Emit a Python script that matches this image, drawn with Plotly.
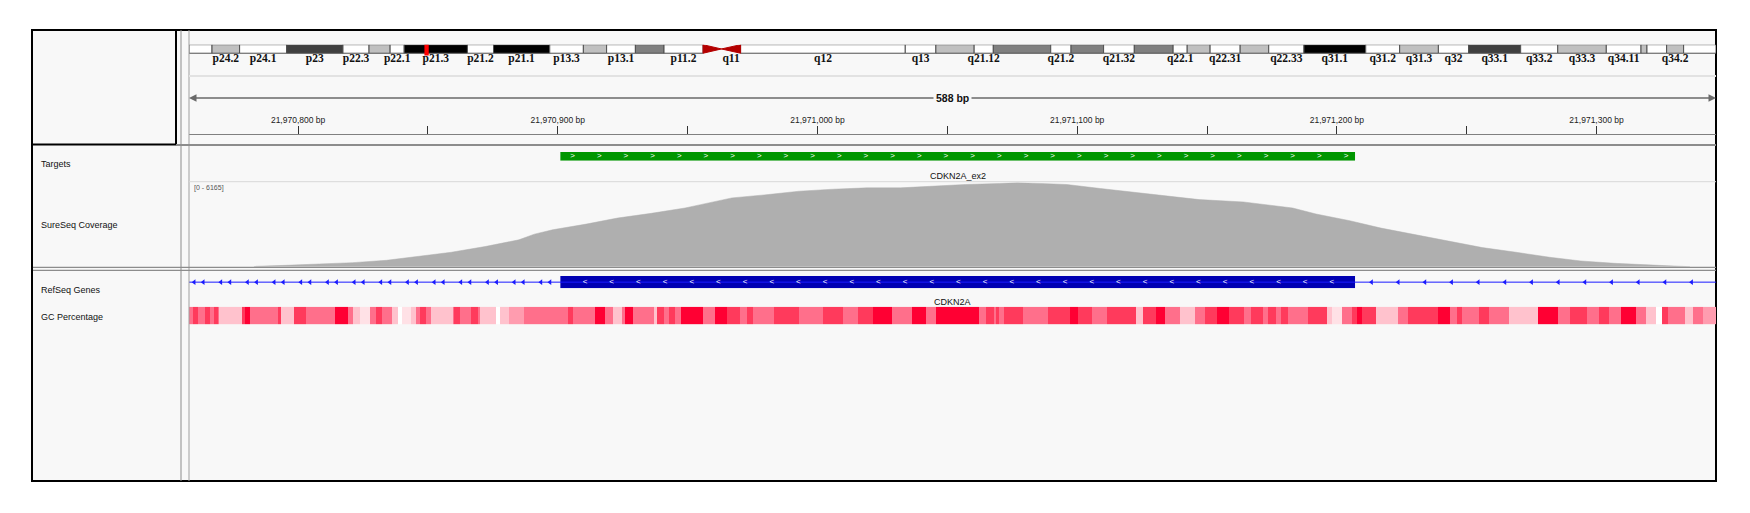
import numpy as np
import plotly.graph_objects as go

W, H = 1750, 513


def fx(px):
    return px / W


def fy(py):
    return 1 - py / H


# current view on chr9
view_start = 21970758
view_end = 21971346
view_mid = (view_start + view_end) / 2
chrom_len_mb = 141.213431

# chr9 cytobands (Mb)
band_names = ['p24.3', 'p24.2', 'p24.1', 'p23', 'p22.3', 'p22.2', 'p22.1', 'p21.3',
              'p21.2', 'p21.1', 'p13.3', 'p13.2', 'p13.1', 'p12', 'p11.2', 'p11.1',
              'q11', 'q12', 'q13', 'q21.11', 'q21.12', 'q21.13', 'q21.2', 'q21.31',
              'q21.32', 'q21.33', 'q22.1', 'q22.2', 'q22.31', 'q22.32', 'q22.33',
              'q31.1', 'q31.2', 'q31.3', 'q32', 'q33.1', 'q33.2', 'q33.3', 'q34.11',
              'q34.12', 'q34.13', 'q34.2', 'q34.3']
band_start = [0.0, 2.13, 4.68, 9.03, 14.24, 16.65, 18.60, 19.90, 25.75, 28.16, 33.36,
              36.47, 38.62, 41.28, 43.93, 47.54, 49.24, 51.01, 66.24, 69.07, 72.61,
              74.38, 79.69, 81.57, 84.58, 87.42, 91.01, 92.31, 94.43, 97.21, 99.85,
              103.11, 108.82, 111.96, 115.54, 118.34, 123.15, 126.58, 131.07, 134.28,
              134.83, 136.65, 138.22]
band_stain = ['gneg', 'gpos25', 'gneg', 'gpos75', 'gneg', 'gpos25', 'gneg', 'gpos100',
              'gneg', 'gpos100', 'gneg', 'gpos25', 'gneg', 'gpos50', 'gneg', 'acen',
              'acen', 'gvar', 'gneg', 'gpos25', 'gneg', 'gpos50', 'gneg', 'gpos50',
              'gneg', 'gpos50', 'gneg', 'gpos25', 'gneg', 'gpos25', 'gneg', 'gpos100',
              'gneg', 'gpos25', 'gneg', 'gpos75', 'gneg', 'gpos25', 'gneg', 'gpos25',
              'gneg', 'gpos25', 'gneg']
band_shown = [0, 1, 1, 1, 1, 0, 1, 1, 1, 1, 1, 0, 1, 0, 1, 0,
              1, 1, 1, 0, 1, 0, 1, 0, 1, 0, 1, 0, 1, 0, 1,
              1, 1, 1, 1, 1, 1, 1, 1, 0, 0, 1, 0]
band_end = band_start[1:] + [chrom_len_mb]

stain_color = {'gneg': '#ffffff', 'gvar': '#ffffff', 'gpos25': '#c0c0c0',
               'gpos50': '#808080', 'gpos75': '#404040', 'gpos100': '#000000'}

# targets / genes
target_name = 'CDKN2A_ex2'
target_start = 21970901
target_end = 21971207

gene_name = 'CDKN2A'
gene_start = 21967751
gene_end = 21994490
exon_start = 21970901
exon_end = 21971207

# coverage (bp offset from 21,970,000 and depth)
cov_max = 6165
cov_offset = [783, 784, 795, 808, 821, 834, 846, 859, 872, 885, 891, 898, 911, 923,
              936, 949, 955, 967, 981, 993, 1006, 1019, 1032, 1044, 1057, 1070, 1077,
              1083, 1096, 1109, 1121, 1134, 1147, 1164, 1173, 1183, 1192, 1205, 1217,
              1230, 1243, 1256, 1269, 1282, 1294, 1307, 1324, 1335, 1336]
cov_depth = [0, 30, 98, 172, 295, 467, 761, 1056, 1474, 1965, 2383, 2702, 3119, 3561,
             3905, 4298, 4544, 5035, 5281, 5527, 5674, 5772, 5772, 5895, 6018, 6091, 6165,
             6116, 6018, 5723, 5477, 5158, 4912, 4740, 4544, 4298, 3856, 3365, 2825,
             2333, 1842, 1400, 1056, 688, 418, 246, 98, 20, 0]

# GC percentage windows (start offset from 21,970,000, GC %)
gc_offset = [758.0, 759.4, 761.3, 764.3, 766.2, 767.7, 769.2, 769.6, 778.5, 779.5, 781.3,
             792.3, 793.6, 798.3, 803.0, 814.4, 819.1, 821.0, 823.8, 827.6, 830.0, 832.3,
             836.1, 838.3, 839.9, 843.6, 845.5, 847.0, 849.3, 851.2, 859.7, 860.2, 862.5,
             866.7, 869.1, 870.1, 876.1, 877.6, 881.4, 887.1, 904.1, 906.0, 914.4, 918.2,
             921.1, 924.8, 925.8, 929.0, 937.1, 938.1, 941.0, 943.0, 945.0, 947.5, 956.0,
             960.7, 965.0, 970.2, 973.0, 975.0, 983.4, 992.8, 1002.3, 1009.8, 1015.5,
             1021.2, 1028.7, 1036.3, 1041.9, 1045.7, 1050.6, 1062.2, 1065.0, 1067.9,
             1068.8, 1069.8, 1071.7, 1079.2, 1088.6, 1097.2, 1100.4, 1105.6, 1111.3,
             1122.6, 1125.5, 1130.2, 1134.0, 1139.6, 1145.3, 1149.1, 1153.8, 1158.5,
             1164.2, 1167.0, 1171.7, 1173.6, 1176.5, 1178.4, 1181.2, 1188.7, 1196.3,
             1198.2, 1202.0, 1205.7, 1207.6, 1209.5, 1215.2, 1223.7, 1227.5, 1238.8,
             1243.5, 1246.3, 1248.2, 1254.8, 1258.6, 1266.2, 1277.5, 1285.1, 1289.8,
             1296.4, 1301.1, 1304.9, 1309.6, 1315.3, 1319.0, 1322.8, 1325.1, 1327.5,
             1334.1, 1337.0, 1340.8, 1346.0]
gc_pct = [55, 65, 55, 65, 55, 65, 55, 42, 65, 75, 55,
          65, 42, 65, 55, 75, 55, 42, 36, 55, 65, 55,
          42, 30, 36, 42, 55, 65, 55, 42, 55, 65, 55,
          65, 55, 42, 30, 42, 48, 55, 65, 55, 75, 55,
          42, 55, 75, 55, 42, 65, 55, 65, 55, 75, 55,
          75, 65, 55, 65, 55, 65, 55, 65, 55, 65,
          75, 55, 75, 55, 75, 75, 55, 65, 55,
          65, 55, 65, 55, 65, 75, 65, 55, 65,
          42, 65, 75, 55, 42, 55, 65, 75, 65,
          55, 65, 55, 65, 55, 65, 55, 65, 42,
          36, 55, 65, 75, 65, 42, 55, 65, 75,
          55, 65, 55, 65, 55, 42, 75, 55, 65,
          55, 65, 55, 75, 55, 42, 30, 65, 55,
          42, 55, 48]

base_bp = 21970000
cov_pos = [base_bp + v for v in cov_offset]
gc_edges = [base_bp + v for v in gc_offset]

# glyph spacing (bp) used by IGV style strand arrows
chev_step = 10.27

bg = '#f8f8f8'
font_ui = 'Liberation Sans, Arial, sans-serif'

fig = go.Figure()

# ---- ideogram ----
body = [i for i, s in enumerate(band_stain) if s != 'acen']
fig.add_trace(go.Bar(
    orientation='h',
    y=[0.5] * len(body),
    base=[band_start[i] for i in body],
    x=[band_end[i] - band_start[i] for i in body],
    width=1,
    marker=dict(color=[stain_color[band_stain[i]] for i in body],
                line=dict(color='#505050', width=1)),
    xaxis='x2', yaxis='y', hoverinfo='skip', showlegend=False))

acen = [i for i, s in enumerate(band_stain) if s == 'acen']
p_cen, q_cen = acen
fig.add_trace(go.Scatter(
    x=[band_start[p_cen], band_start[p_cen], band_end[p_cen], band_start[p_cen], None,
       band_end[q_cen], band_end[q_cen], band_start[q_cen], band_end[q_cen]],
    y=[1, 0, 0.5, 1, None, 1, 0, 0.5, 1],
    mode='lines', fill='toself', fillcolor='#b40000',
    line=dict(color='#b40000', width=1),
    xaxis='x2', yaxis='y', hoverinfo='skip', showlegend=False))

# current locus marker
fig.add_trace(go.Bar(
    orientation='h', y=[0.5], base=[view_mid / 1e6 - 0.2], x=[0.4], width=1.55,
    marker=dict(color='#ff0000', line=dict(width=0)),
    xaxis='x2', yaxis='y', hoverinfo='skip', showlegend=False))

shown = [i for i in range(len(band_names)) if band_shown[i]]
fig.add_trace(go.Scatter(
    x=[(band_start[i] + band_end[i]) / 2 for i in shown],
    y=[-0.7] * len(shown),
    text=[band_names[i] for i in shown],
    mode='text',
    textfont=dict(family='Liberation Serif, Times New Roman, serif', size=11.5,
                  color='#111111', weight='bold'),
    xaxis='x2', yaxis='y', hoverinfo='skip', showlegend=False, cliponaxis=False))

# ---- targets ----
fig.add_trace(go.Bar(
    orientation='h', y=[0.5], base=[target_start], x=[target_end - target_start],
    width=1, marker=dict(color='#009600', line=dict(width=0)),
    xaxis='x', yaxis='y3', hoverinfo='skip', showlegend=False))
t_chev = np.arange(target_start + 4.7, target_end - 3, chev_step)
fig.add_trace(go.Scatter(
    x=t_chev, y=[0.5] * len(t_chev), text=['>'] * len(t_chev), mode='text',
    textfont=dict(family=font_ui, size=8, color='white'),
    xaxis='x', yaxis='y3', hoverinfo='skip', showlegend=False))

# ---- coverage ----
fig.add_trace(go.Scatter(
    x=cov_pos, y=cov_depth, mode='lines', fill='tozeroy',
    fillcolor='#afafaf', line=dict(color='#afafaf', width=0.5),
    xaxis='x', yaxis='y4', hoverinfo='skip', showlegend=False))

# ---- RefSeq gene ----
fig.add_trace(go.Scatter(
    x=[gene_start, gene_end], y=[0.5, 0.5], mode='lines',
    line=dict(color='#1a1aff', width=1),
    xaxis='x', yaxis='y5', hoverinfo='skip', showlegend=False))
left1 = np.arange(view_start + 2.0, exon_start - 1, chev_step)
left2 = np.arange(view_start + 5.5, exon_start - 1, chev_step)
right = np.arange(view_start + 3.5, view_end, chev_step)
right = right[right > exon_end + 2]
arrows = np.concatenate([left1, left2, right])
fig.add_trace(go.Scatter(
    x=arrows, y=[0.5] * len(arrows), mode='markers',
    marker=dict(symbol='triangle-left', size=5, color='#1a1aff'),
    xaxis='x', yaxis='y5', hoverinfo='skip', showlegend=False))
fig.add_trace(go.Bar(
    orientation='h', y=[0.5], base=[exon_start], x=[exon_end - exon_start],
    width=1, marker=dict(color='#0000b2', line=dict(width=0)),
    xaxis='x', yaxis='y5', hoverinfo='skip', showlegend=False))
e_chev = np.arange(exon_start + 9.5, exon_end - 3, chev_step)
fig.add_trace(go.Scatter(
    x=e_chev, y=[0.5] * len(e_chev), text=['<'] * len(e_chev), mode='text',
    textfont=dict(family=font_ui, size=8, color='white'),
    xaxis='x', yaxis='y5', hoverinfo='skip', showlegend=False))

# ---- GC percentage ----
fig.add_trace(go.Heatmap(
    x=gc_edges, y=[0], z=[gc_pct], zmin=30, zmax=75,
    colorscale=[[0.0, '#ffffff'], [0.267, '#ffc2cd'], [0.556, '#ff6f8b'],
                [0.778, '#ff3a5c'], [1.0, '#ff0033']],
    showscale=False, hoverinfo='skip', xaxis='x', yaxis='y6'))

# ---- panel frame ----
grey = '#8c8c8c'
shapes = [
    dict(type='rect', xref='paper', yref='paper', x0=fx(32), x1=fx(1716), y0=fy(481),
         y1=fy(30), fillcolor=bg, line=dict(color='black', width=2), layer='below'),
    dict(type='rect', xref='paper', yref='paper', x0=fx(32), x1=fx(176), y0=fy(144.5),
         y1=fy(30), line=dict(color='black', width=2), layer='above'),
    dict(type='line', xref='paper', yref='paper', x0=fx(181), x1=fx(181), y0=fy(481),
         y1=fy(30), line=dict(color=grey, width=1)),
    dict(type='line', xref='paper', yref='paper', x0=fx(189), x1=fx(189), y0=fy(481),
         y1=fy(30), line=dict(color='#a0a0a0', width=1)),
    dict(type='line', xref='paper', yref='paper', x0=fx(189), x1=fx(1716), y0=fy(76),
         y1=fy(76), line=dict(color='#e2e2e2', width=2)),
    dict(type='line', xref='paper', yref='paper', x0=fx(176), x1=fx(1716), y0=fy(145),
         y1=fy(145), line=dict(color=grey, width=2)),
    dict(type='line', xref='paper', yref='paper', x0=fx(189), x1=fx(1716), y0=fy(181.7),
         y1=fy(181.7), line=dict(color='#d8d8d8', width=1)),
    dict(type='line', xref='paper', yref='paper', x0=fx(33), x1=fx(1716), y0=fy(267.3),
         y1=fy(267.3), line=dict(color=grey, width=1.2)),
    dict(type='line', xref='paper', yref='paper', x0=fx(33), x1=fx(1716), y0=fy(270.3),
         y1=fy(270.3), line=dict(color=grey, width=1.2)),
]

annotations = []
track_labels = [('Targets', 164), ('SureSeq Coverage', 225),
                ('RefSeq Genes', 290), ('GC Percentage', 316.7)]
for label, ypx in track_labels:
    annotations.append(dict(text=label, xref='paper', yref='paper', x=fx(39), y=fy(ypx),
                            xanchor='left', yanchor='middle', showarrow=False,
                            font=dict(family=font_ui, size=9, color='#111111')))

annotations.append(dict(text='[0 - %d]' % cov_max, xref='paper', yref='paper',
                        x=fx(192), y=fy(187.7), xanchor='left', yanchor='middle',
                        showarrow=False, font=dict(family=font_ui, size=7, color='#555555')))
annotations.append(dict(text=target_name, xref='x', yref='paper',
                        x=(target_start + target_end) / 2, y=fy(175.7), yanchor='middle',
                        showarrow=False, font=dict(family=font_ui, size=9, color='#111111')))
annotations.append(dict(text=gene_name, xref='x', yref='paper', x=view_mid, y=fy(301.7),
                        yanchor='middle', showarrow=False,
                        font=dict(family=font_ui, size=9, color='#111111')))

# ruler arrows and span label
for tip in (view_start, view_end):
    annotations.append(dict(text='', xref='x', yref='paper', x=tip, y=fy(98),
                            axref='x', ax=view_mid, ayref='pixel', ay=0,
                            showarrow=True, arrowhead=2, arrowsize=1, arrowwidth=1.5,
                            arrowcolor='#6a6a6a'))
annotations.append(dict(text='<b>%d bp</b>' % (view_end - view_start), xref='x',
                        yref='paper', x=view_mid, y=fy(98), xanchor='center',
                        yanchor='middle', showarrow=False, bgcolor=bg, borderpad=2,
                        font=dict(family=font_ui, size=10.5, color='#111111')))

data_dom = [fx(189), fx(1716)]
layout = go.Layout(
    width=W, height=H,
    margin=dict(l=0, r=0, t=0, b=0),
    paper_bgcolor='white', plot_bgcolor='rgba(0,0,0,0)',
    barmode='overlay',
    showlegend=False,
    xaxis=dict(domain=data_dom, range=[view_start, view_end], side='top',
               anchor='free', position=fy(134.3), showline=True, linecolor='#808080',
               linewidth=1, ticks='outside', ticklen=8, tickwidth=1, tickcolor='#333333',
               tick0=21970800, dtick=100, tickformat=',d', ticksuffix=' bp',
               tickfont=dict(family=font_ui, size=8.5, color='#222222'),
               minor=dict(dtick=50, tick0=21970800, ticks='outside', ticklen=8,
                          tickcolor='#333333', showgrid=False),
               showgrid=False, zeroline=False, fixedrange=True),
    xaxis2=dict(domain=data_dom, range=[0, chrom_len_mb], visible=False, anchor='y'),
    yaxis=dict(domain=[fy(66), fy(44.7)], range=[-1.5, 1], visible=False, anchor='x2'),
    yaxis3=dict(domain=[fy(160.7), fy(152)], range=[0, 1], visible=False, anchor='x'),
    yaxis4=dict(domain=[fy(266.7), fy(182.5)], range=[0, cov_max], visible=False,
                anchor='x'),
    yaxis5=dict(domain=[fy(288.3), fy(276)], range=[0, 1], visible=False, anchor='x'),
    yaxis6=dict(domain=[fy(324.3), fy(306.7)], range=[-0.5, 0.5], visible=False,
                anchor='x'),
    shapes=shapes,
    annotations=annotations,
)
fig.update_layout(layout)

# the page body has a default 8px margin; drop it so the figure sits at (0, 0)
fig.write_html('out.html', config={'displayModeBar': False},
               post_script="document.body.style.margin='0px';")
